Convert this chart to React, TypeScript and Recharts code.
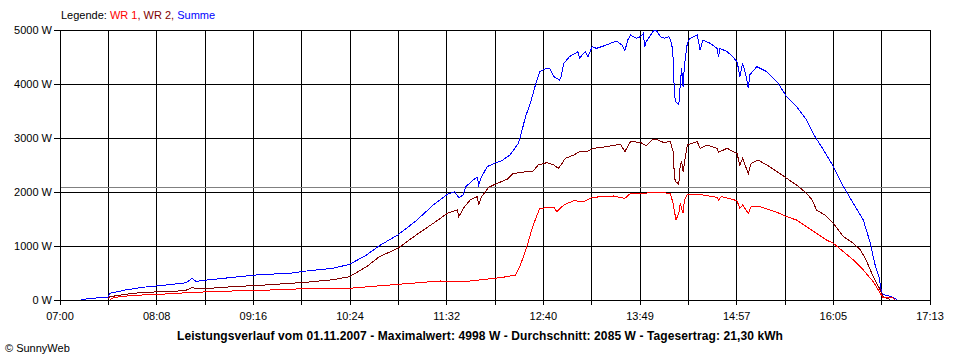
import { LineChart, Line, XAxis, YAxis, CartesianGrid, ReferenceLine } from 'recharts';

// Leistungsverlauf 01.11.2007, Werte in W, Zeit hh:mm
const summeTimes = [
  '07:15', '07:28', '07:34', '07:35', '07:46', '07:58', '08:10', '08:29', '08:33', '08:36',
  '08:39', '09:02', '09:21', '09:42', '09:53', '10:12', '10:24', '10:36', '10:45', '10:58',
  '11:11', '11:23', '11:33', '11:38', '11:41', '11:44', '11:46', '11:51', '11:54', '11:55',
  '11:57', '12:01', '12:06', '12:11', '12:17', '12:23', '12:25', '12:28', '12:31', '12:33',
  '12:35', '12:38', '12:42', '12:45', '12:48', '12:50', '12:52', '12:53', '12:55', '12:59',
  '13:05', '13:06', '13:10', '13:12', '13:15', '13:18', '13:25', '13:32', '13:36', '13:38',
  '13:40', '13:42', '13:46', '13:49', '13:51', '13:52', '13:53', '13:57', '13:58', '14:00',
  '14:03', '14:06', '14:09', '14:11', '14:12', '14:13', '14:14', '14:16', '14:17', '14:18',
  '14:19', '14:20', '14:22', '14:24', '14:29', '14:31', '14:33', '14:38', '14:43', '14:44',
  '14:45', '14:50', '14:54', '14:57', '14:58', '14:59', '15:01', '15:03', '15:05', '15:06',
  '15:11', '15:18', '15:26', '15:32', '15:39', '15:46', '15:52', '15:58', '16:05', '16:12',
  '16:19', '16:26', '16:31', '16:34', '16:37', '16:39', '16:41', '16:46', '16:48', '16:50',
];
const summeValues = [
  10, 43, 45, 123, 185, 235, 265, 320, 400, 340,
  357, 420, 470, 494, 535, 586, 660, 833, 1006, 1204,
  1469, 1759, 1957, 2006, 1894, 1944, 2099, 2222, 2272, 2130,
  2280, 2469, 2531, 2574, 2685, 2901, 3086, 3395, 3611, 3796,
  3981, 4228, 4278, 4290, 4136, 4105, 4074, 4136, 4383, 4506,
  4599, 4475, 4599, 4506, 4691, 4660, 4722, 4796, 4722, 4611,
  4815, 4907, 4846, 4877, 4938, 4691, 4784, 4938, 4981, 4998,
  4877, 4846, 4877, 4754, 4475, 3765, 3673, 3611, 3981, 4290,
  3951, 4352, 4754, 4846, 4907, 4630, 4815, 4754, 4660, 4506,
  4660, 4599, 4506, 4413, 4290, 4136, 4383, 4198, 3920, 4167,
  4321, 4228, 4012, 3765, 3580, 3333, 3024, 2778, 2469, 2099,
  1790, 1481, 1049, 679, 432, 123, 93, 62, 31, 0,
];

const wr2Times = [
  '07:34', '07:35', '07:46', '07:58', '08:14', '08:28', '08:33', '08:39', '09:02', '09:21',
  '09:42', '09:53', '10:12', '10:24', '10:36', '10:45', '10:58', '11:11', '11:23', '11:33',
  '11:40', '11:41', '11:45', '11:49', '11:54', '11:55', '11:57', '12:02', '12:08', '12:15',
  '12:19', '12:29', '12:33', '12:37', '12:43', '12:48', '12:51', '12:53', '12:56', '13:02',
  '13:06', '13:11', '13:16', '13:25', '13:35', '13:38', '13:42', '13:49', '13:53', '13:58',
  '14:00', '14:05', '14:10', '14:12', '14:13', '14:14', '14:16', '14:17', '14:18', '14:19',
  '14:22', '14:29', '14:31', '14:36', '14:43', '14:44', '14:50', '14:57', '14:59', '15:01',
  '15:04', '15:05', '15:07', '15:12', '15:20', '15:27', '15:32', '15:39', '15:46', '15:50',
  '15:53', '15:59', '16:05', '16:12', '16:19', '16:24', '16:28', '16:33', '16:38', '16:40',
  '16:45',
];
const wr2Values = [
  30, 60, 105, 142, 154, 173, 228, 204, 247, 272,
  309, 327, 375, 432, 617, 802, 957, 1204, 1420, 1605,
  1667, 1543, 1728, 1852, 1914, 1759, 1914, 2086, 2160, 2235,
  2340, 2377, 2377, 2500, 2543, 2500, 2438, 2500, 2623, 2685,
  2747, 2747, 2809, 2840, 2883, 2747, 2932, 2920, 2858, 2981,
  2981, 2920, 2932, 2747, 2253, 2191, 2142, 2500, 2562, 2377,
  2870, 2932, 2809, 2870, 2809, 2735, 2809, 2716, 2500, 2623,
  2407, 2346, 2531, 2590, 2469, 2346, 2253, 2130, 1975, 1852,
  1667, 1574, 1420, 1173, 1049, 926, 740, 432, 185, 62,
  10,
];

const wr1Times = [
  '07:35', '07:39', '07:47', '07:58', '08:10', '08:34', '09:02', '09:28', '09:53', '10:24',
  '10:29', '10:58', '11:28', '11:33', '11:42', '12:06', '12:15', '12:21', '12:24', '12:29',
  '12:33', '12:38', '12:48', '12:50', '12:55', '13:02', '13:09', '13:15', '13:30', '13:38',
  '13:42', '13:49', '13:58', '14:10', '14:12', '14:14', '14:16', '14:17', '14:19', '14:20',
  '14:22', '14:33', '14:43', '14:44', '14:46', '14:57', '14:59', '15:01', '15:05', '15:07',
  '15:12', '15:20', '15:27', '15:32', '15:39', '15:46', '15:53', '16:00', '16:05', '16:12',
  '16:19', '16:26', '16:33', '16:38', '16:40', '16:47', '16:48',
];
const wr1Values = [
  12, 50, 74, 93, 105, 142, 167, 185, 210, 216,
  228, 290, 352, 340, 333, 401, 432, 463, 617, 988,
  1358, 1698, 1716, 1636, 1759, 1840, 1821, 1901, 1926, 1883,
  1975, 1963, 2000, 1975, 1790, 1481, 1605, 1790, 1605, 1852,
  1963, 1944, 1901, 1852, 1914, 1840, 1698, 1759, 1605, 1728,
  1741, 1667, 1605, 1543, 1481, 1358, 1235, 1111, 1049, 895,
  741, 556, 340, 123, 40, 40, 0,
];

const xTickLabels = ['07:00', '08:08', '09:16', '10:24', '11:32', '12:40', '13:49', '14:57', '16:05', '17:13'];
const yTicks = [0, 1000, 2000, 3000, 4000, 5000];
const durchschnitt = 2085;

const toMin = (s: string) => {
  const [h, m] = s.split(':').map(Number);
  return (h - 7) * 60 + m;
};

const build = (times: string[], values: number[]) =>
  times.map((t, i) => ({ t: toMin(t), v: values[i] }));

const summeData = build(summeTimes, summeValues);
const wr2Data = build(wr2Times, wr2Values);
const wr1Data = build(wr1Times, wr1Values);

const xEnd = toMin(xTickLabels[xTickLabels.length - 1]);
// 18 gridlines, every second one labelled
const xTicks = Array.from({ length: 19 }, (_, i) => (i * xEnd) / 18);

const font = '"Liberation Sans", Arial, sans-serif';

export default function App() {
  return (
    <div style={{ position: 'absolute', left: 0, top: 0, width: 960, height: 360, background: '#fff', fontFamily: font }}>
      <style>{`
        body { margin: 0; }
        .recharts-surface line, .recharts-surface path { shape-rendering: crispEdges; }
      `}</style>
      <div style={{ position: 'absolute', left: 61, top: 9, fontSize: 11, lineHeight: '13px', whiteSpace: 'nowrap' }}>
        <span style={{ color: '#000' }}>Legende: </span>
        <span style={{ color: '#ff0000' }}>WR 1</span>
        <span style={{ color: '#800000' }}>, WR 2</span>
        <span style={{ color: '#800000' }}>, </span>
        <span style={{ color: '#0000ff' }}>Summe</span>
      </div>
      <LineChart width={960} height={360} margin={{ top: 30, right: 30, bottom: 0, left: 0 }}>
        <CartesianGrid stroke="#000" strokeWidth={1} horizontalValues={yTicks} verticalValues={xTicks} />
        <XAxis
          type="number"
          dataKey="t"
          domain={[0, xEnd]}
          ticks={xTicks}
          interval={0}
          height={60}
          tickSize={5}
          tickMargin={7}
          stroke="#000"
          tick={{ fill: '#000', fontSize: 11, fontFamily: font }}
          tickFormatter={(_v: number, i: number) => (i % 2 === 0 ? xTickLabels[i / 2] : '')}
        />
        <YAxis
          domain={[0, 5000]}
          ticks={yTicks}
          interval={0}
          width={60}
          tickSize={6}
          tickMargin={2}
          stroke="#000"
          tick={{ fill: '#000', fontSize: 11, fontFamily: font }}
          tickFormatter={(v: number) => `${v} W`}
        />
        <ReferenceLine y={durchschnitt} stroke="#808080" strokeWidth={1} />
        <Line data={summeData} dataKey="v" name="Summe" type="linear" stroke="#0000ff" strokeWidth={1} dot={false} isAnimationActive={false} />
        <Line data={wr2Data} dataKey="v" name="WR 2" type="linear" stroke="#800000" strokeWidth={1} dot={false} isAnimationActive={false} />
        <Line data={wr1Data} dataKey="v" name="WR 1" type="linear" stroke="#ff0000" strokeWidth={1} dot={false} isAnimationActive={false} />
      </LineChart>
      <div style={{ position: 'absolute', left: 0, width: 960, top: 329, textAlign: 'center', fontSize: 12, fontWeight: 'bold', lineHeight: '14px', letterSpacing: 0.1 }}>
        Leistungsverlauf vom 01.11.2007 - Maximalwert: 4998 W - Durchschnitt: 2085 W - Tagesertrag: 21,30 kWh
      </div>
      <div style={{ position: 'absolute', left: 5, top: 342, fontSize: 11, lineHeight: '13px' }}>
        © SunnyWeb
      </div>
    </div>
  );
}
